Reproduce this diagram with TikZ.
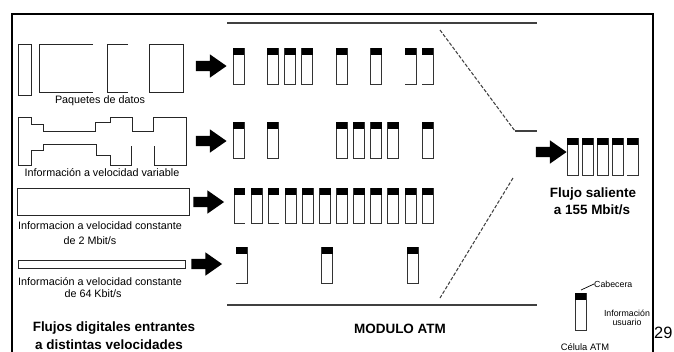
\documentclass[tikz,border=0pt]{standalone}
\usepackage{fontspec}
\setmainfont{Liberation Sans}
\usetikzlibrary{arrows.meta,positioning,shapes.arrows}

\begin{document}
\begin{tikzpicture}[x=0.03cm,y=-0.03cm,>=Latex]
\tikzstyle{lbl}=[font=\fontsize{9.2}{10}\selectfont,inner sep=0pt]
\tikzstyle{smalllbl}=[font=\fontsize{7.5}{8}\selectfont,inner sep=0pt]
\tikzstyle{ttl}=[font=\fontsize{11.5}{13}\selectfont\bfseries,inner sep=0pt]
\tikzstyle{outline}=[draw=black!85,line width=0.8pt]
\tikzstyle{cellline}=[draw=black!80,line width=0.8pt]
\tikzstyle{modline}=[draw=black!75,line width=0.9pt]
\tikzstyle{bigarrow}=[single arrow,fill=black,inner xsep=0pt,inner ysep=0.15cm,text height=0pt,text depth=0pt,minimum height=0.92cm,single arrow head extend=0.195cm,single arrow tip angle=70]
\useasboundingbox (0,0) rectangle (674,351);
% outer frame
\draw[line width=1.5pt] (12,14) rectangle (653,380);
% incoming streams
\draw[outline] (18,44) rectangle (31,95);
\draw[outline] (93,44) -- (39,44) -- (39,92) -- (93,92);
\draw[outline] (128,44) -- (107,44) -- (107,92) -- (128,92);
\draw[outline] (149,44) rectangle (183,92);
\node[lbl] (pq) at (100,101) {Paquetes de datos};
\draw[outline] (154,146) -- (154,165) -- (186,165) -- (186,117) -- (153,117) -- (153,131) -- (132,131) -- (132,117)
  -- (110,117) -- (110,122) -- (95,122) -- (95,131) -- (43,131) -- (43,124) -- (31,124) -- (31,117) -- (18,117)
  -- (18,165) -- (31,165) -- (31,150) -- (43,150) -- (43,144) -- (96,144) -- (96,155) -- (110,155) -- (110,165)
  -- (131,165) -- (131,146);
\node[lbl] (var) at (102,173) {Información a velocidad variable};
\draw[outline] (17,188) rectangle (189,215);
\node[lbl] (cbr1) at (100,226) {Informacion a velocidad constante};
\node[lbl] (cbr1b) at (90,241) {de 2 Mbit/s};
\draw[outline] (18,260) rectangle (185,268);
\node[lbl] (cbr2) at (100,282) {Información a velocidad constante};
\node[lbl] (cbr2b) at (93,294) {de 64 Kbit/s};
\node[ttl] (inflow) at (114,328) {Flujos digitales entrantes};
\node[ttl] (inflowb) at (109,345) {a distintas velocidades};
% arrows into the module
\node[bigarrow] (a1) at (207.5,66) {};
\node[bigarrow] (a2) at (207.5,141) {};
\node[bigarrow] (a3) at (205,202) {};
\node[bigarrow] (a4) at (203,264) {};
% ATM module
\draw[modline] (227,23) -- (537,23);
\draw[modline] (227,305) -- (537,305);
\draw[modline,dash pattern=on 3pt off 1.5pt] (440,30) -- (515,131);
\draw[modline] (515,131) -- (537,131);
\draw[modline,dash pattern=on 3pt off 1.5pt] (513,178) -- (440,298);
\node[ttl] (mod) at (400,329) {MODULO ATM};
% cells per row
\foreach \k in {0,2,3,4,6,8} {
  \draw[cellline] ({233+17.2*\k},48) rectangle ++(11,36);
  \fill ({233+17.2*\k},48) rectangle ++(11,7);
}
\foreach \k in {10,11} {
  \draw[cellline] ({233+17.2*\k},48) -- ++(11,0) -- ++(0,36) -- ++(-11,0);
  \fill ({233+17.2*\k},48) rectangle ++(11,7);
}
\foreach \k in {0,2,6,7,8,9,11} {
  \draw[cellline] ({233+17.2*\k},122) rectangle ++(11,36);
  \fill ({233+17.2*\k},122) rectangle ++(11,7);
}
\foreach \k in {1,3,4,5,6,7,8,9,10,11} {
  \draw[cellline] ({234+17.1*\k},188) rectangle ++(11,35);
  \fill ({234+17.1*\k},188) rectangle ++(11,7);
}
\foreach \k in {0,2} {
  \draw[cellline] ({245+17.1*\k},188) -- ++(-11,0) -- ++(0,35) -- ++(11,0);
  \fill ({234+17.1*\k},188) rectangle ++(11,7);
}
\draw[cellline] (236,247) -- ++(11,0) -- ++(0,36) -- ++(-11,0);
\fill (236,247) rectangle ++(11,7);
\foreach \k in {5,10} {
  \draw[cellline] ({236+17.1*\k},247) rectangle ++(11,36);
  \fill ({236+17.1*\k},247) rectangle ++(11,7);
}
% outgoing stream
\node[bigarrow] (aout) at (547.5,152) {};
\foreach \k in {0,1,2,3} {
  \draw[cellline] ({567+15*\k},138) rectangle ++(11,37);
  \fill ({567+15*\k},138) rectangle ++(11,7);
}
\draw[cellline] (627,138) -- ++(11,0) -- ++(0,37) -- ++(-11,0);
\fill (627,138) rectangle ++(11,7);
\node[ttl] (out) at (593,194) {Flujo saliente};
\node[ttl] (outb) at (592,210) {a 155 Mbit/s};
% legend
\draw[cellline] (575,293) rectangle (586,330);
\fill (575,293) rectangle (586,300);
\coordinate (hdr) at (581,290);
\node[smalllbl,anchor=west] (cab) at (594,284) {Cabecera};
\draw[line width=0.6pt] (hdr) -- (cab.west);
\node[smalllbl,align=center] (info) at (627,318) {Información\\usuario};
\node[font=\fontsize{8}{9}\selectfont,inner sep=0pt] (cel) at (585,347) {Célula ATM};
\node[font=\fontsize{14}{15}\selectfont,inner sep=0pt,anchor=west] (pg) at (654,333) {29};
\end{tikzpicture}
\end{document}
